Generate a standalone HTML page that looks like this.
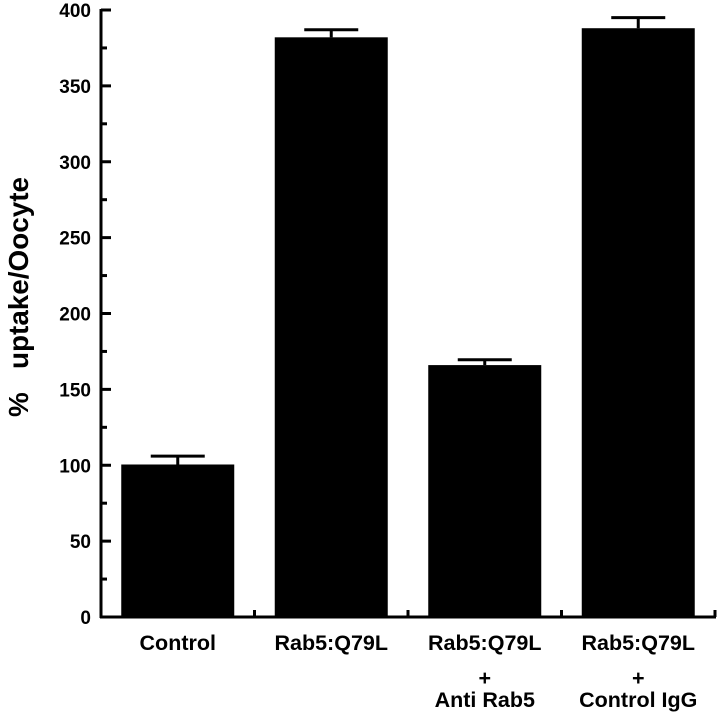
<!DOCTYPE html>
<html><head><meta charset="utf-8"><style>
html,body{margin:0;padding:0;background:#fff;}
svg{display:block;font-family:"Liberation Sans",Arial,sans-serif;}
</style></head><body>
<svg id="chart" width="720" height="716" viewBox="0 0 720 716" xmlns="http://www.w3.org/2000/svg">
<g id="axes"></g>
<g id="bars"></g>
<g id="labels"></g>
<text transform="translate(28,297) rotate(-90)" text-anchor="middle" font-size="28" font-weight="bold" fill="#000" textLength="240" lengthAdjust="spacingAndGlyphs">%&#160;&#160;&#160;uptake/Oocyte</text>
</svg>
<script>
const categories = [["Control"],["Rab5:Q79L"],["Rab5:Q79L","+","Anti Rab5"],["Rab5:Q79L","+","Control IgG"]];
const values = [100.5, 382, 166, 388];
const errors = [5.5, 5, 3.5, 7];
const yTicks = [0,50,100,150,200,250,300,350,400];
const yMinor = [25,75,125,175,225,275,325,375];

const NS="http://www.w3.org/2000/svg";
const x0=101, x1=715, y0=617, yTop=10, vmax=400;
const step=(x1-x0)/categories.length, bw=113;
function yS(v){return y0-(v/vmax)*(y0-yTop);}
function xC(i){return x0+step*(i+0.5);}
function mk(tag,attrs,parent){const e=document.createElementNS(NS,tag);for(const k in attrs)e.setAttribute(k,attrs[k]);parent.appendChild(e);return e;}
const axes=document.getElementById('axes'),bars=document.getElementById('bars'),labels=document.getElementById('labels');

let l=mk('line',{x1:x0,y1:yTop-1,x2:x0,y2:y0+1,stroke:'#000','stroke-width':3},axes);


l=mk('line',{x1:x0-1,y1:y0,x2:x1+1,y2:y0,stroke:'#000','stroke-width':3},axes);


yTicks.forEach(v=>{
  const t=mk('line',{x1:x0,y1:yS(v),x2:x0+10,y2:yS(v),stroke:'#000','stroke-width':3},axes);
  
  
  const tx=mk('text',{x:91,y:yS(v)+7,'text-anchor':'end','font-size':19,'font-weight':'bold',fill:'#000'},axes);
  tx.textContent=v;
  
  
});
yMinor.forEach(v=>{
  const t=mk('line',{x1:x0,y1:yS(v),x2:x0+6,y2:yS(v),stroke:'#000','stroke-width':3},axes);
  
  
});
for(let i=1;i<=categories.length;i++){
  const xx=x0+step*i;
  const t=mk('line',{x1:xx,y1:y0,x2:xx,y2:y0-7,stroke:'#000','stroke-width':3},axes);
  
  
}
values.forEach((v,i)=>{
  const cx=xC(i);
  const r=mk('rect',{x:cx-bw/2,y:yS(v),width:bw,height:y0-yS(v),fill:'#000'},bars);
  
  
  const yt=yS(v+errors[i]);
  const e=mk('path',{d:`M${cx},${yS(v)} V${yt} M${cx-27},${yt} H${cx+27}`,stroke:'#000','stroke-width':3,fill:'none'},bars);
  
  
  const ys=[642,677,699];
  categories[i].forEach((s,j)=>{
    const tx=mk('text',{x:cx,y:ys[j]+8,'text-anchor':'middle','font-size':21.5,fill:'#000','font-weight':'bold'},labels);
    tx.textContent=s;
    
    
  });
});
</script>
</body></html>
